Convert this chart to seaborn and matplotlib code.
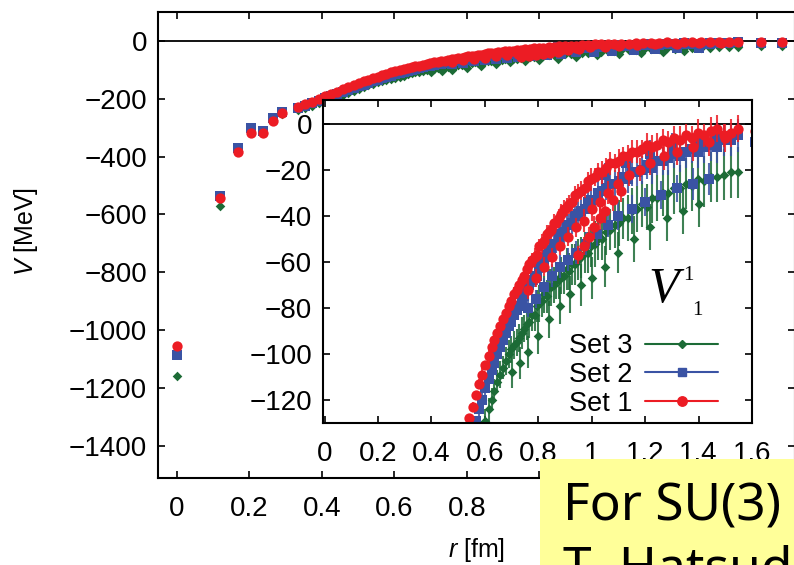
import matplotlib
matplotlib.use("Agg")
import matplotlib.pyplot as plt
from matplotlib.lines import Line2D
from matplotlib.patches import Rectangle
import pandas as pd
import seaborn as sns

# ---------------- data ----------------
r_core = [0.000, 0.118, 0.167, 0.204, 0.236, 0.264, 0.289,
          0.334, 0.354, 0.373, 0.391, 0.409, 0.425, 0.441, 0.457, 0.472, 0.487, 0.501, 0.515, 0.528, 0.541,
          0.554, 0.566, 0.578, 0.590, 0.602, 0.614, 0.625, 0.636, 0.647, 0.658, 0.668, 0.679, 0.689, 0.699,
          0.709, 0.719, 0.729, 0.739, 0.748, 0.758,
          0.767, 0.776, 0.786, 0.795, 0.804, 0.813, 0.822, 0.831, 0.840, 0.849, 0.858, 0.867, 0.876, 0.886,
          0.896, 0.906, 0.916, 0.927, 0.938, 0.949,
          0.961, 0.973, 0.985, 0.998, 1.011, 1.025, 1.040, 1.055, 1.070, 1.086,
          1.102, 1.118, 1.135, 1.152, 1.170, 1.188, 1.207, 1.226, 1.246, 1.266,
          1.287, 1.308, 1.330, 1.352, 1.375, 1.398, 1.422, 1.446, 1.470, 1.496,
          1.522, 1.548, 1.610, 1.670]

# Set 1 (red)
v1_core = [-1055, -544, -385, -318, -320, -276, -250,
           -228, -218, -210, -200, -191, -183, -175, -167, -160, -153, -146, -140, -134, -128,
           -123, -118, -113, -109, -105, -101, -97, -94, -91, -88, -85, -82, -79, -77,
           -74, -72, -70, -68, -66, -63,
           -61, -59, -58, -57, -53, -52, -51, -48, -47, -46, -43, -43, -41, -39,
           -37, -36, -35, -34, -31, -30,
           -29, -28, -25, -24, -23, -21, -21, -19, -17, -17,
           -16, -14, -14, -12, -12, -11, -9, -10, -9, -7,
           -8, -6, -7, -5, -6, -4, -5, -3, -2, -5,
           -4, -2, -3, -2]
e1_core = [4, 3, 3, 2, 2, 2, 2,
           2, 2, 2, 2, 2, 2, 2, 2, 2, 2, 2, 2, 2, 2,
           2, 2, 2, 3, 2, 3, 2, 3, 3, 2, 3, 3, 3, 3,
           3, 3, 3, 3, 3, 3,
           3, 3, 4, 3, 3, 4, 3, 4, 3, 4, 4, 3, 4, 4,
           4, 4, 4, 4, 4, 4,
           4, 4, 4, 5, 4, 4, 5, 4, 5, 4,
           5, 4, 5, 5, 5, 4, 5, 5, 5, 5,
           5, 5, 6, 5, 5, 6, 5, 6, 6, 5,
           6, 6, 6, 6]
r1_b = [0.760, 0.790, 0.820, 0.850, 0.880, 0.910, 0.940, 0.970, 1.000, 1.030,
        1.060, 1.100, 1.140, 1.180, 1.220, 1.270, 1.320, 1.380, 1.440, 1.500]
v1_b = [-72, -67, -62, -58, -53, -49, -45, -42, -37, -34,
        -30, -26, -22, -20, -17, -14, -12, -10, -8, -6]
e1_b = [4, 4, 4, 4, 4, 4, 4, 5, 5, 5, 5, 5, 5, 5, 5, 6, 6, 6, 6, 6]
r1_c = [0.950, 0.970, 0.990, 1.010, 1.030, 1.050, 1.080, 1.110]
v1_c = [-57, -53, -49, -45, -41, -38, -33, -29]
e1_c = [4, 4, 4, 5, 5, 5, 5, 5]

# Set 2 (blue)
v2_core = [-1085, -537, -371, -302, -310, -267, -245,
           -232, -224, -216, -208, -199, -192, -185, -178, -171, -164, -157, -151, -145, -140,
           -134, -129, -124, -120, -115, -111, -107, -104, -100, -97, -94, -91, -88, -86,
           -83, -81, -79, -77, -75, -72,
           -70, -68, -67, -66, -62, -61, -60, -57, -56, -55, -52, -52, -49, -48,
           -47, -44, -44, -43, -40, -39,
           -38, -37, -34, -33, -33, -30, -29, -28, -26, -26,
           -25, -23, -24, -21, -21, -20, -18, -19, -16, -16,
           -15, -13, -14, -12, -11, -12, -10, -9, -10, -7,
           -7, -5, -8, -6]
e2_core = [4, 3, 3, 2, 2, 2, 2,
           2, 2, 2, 2, 2, 2, 2, 2, 2, 2, 2, 3, 2, 3,
           3, 2, 3, 3, 3, 3, 3, 3, 3, 3, 3, 3, 4, 3,
           4, 3, 4, 4, 3, 4,
           4, 4, 4, 4, 4, 4, 4, 5, 4, 4, 5, 4, 5, 5,
           5, 5, 5, 5, 5, 5,
           5, 5, 5, 6, 5, 5, 6, 5, 6, 6,
           6, 6, 6, 6, 6, 6, 6, 7, 6, 6,
           7, 6, 7, 7, 6, 7, 7, 7, 7, 7,
           7, 7, 7, 7]
r2_b = [0.760, 0.790, 0.820, 0.850, 0.880, 0.910, 0.940, 0.980, 1.020, 1.060,
        1.100, 1.150, 1.200, 1.260, 1.320, 1.380, 1.440]
v2_b = [-80, -76, -71, -66, -62, -59, -56, -52, -48, -44,
        -40, -37, -34, -31, -28, -26, -24]
e2_b = [4, 4, 4, 5, 5, 5, 5, 5, 5, 5, 6, 6, 6, 6, 6, 7, 7]
r2_c = [1.050, 1.130, 1.220, 1.300, 1.400, 1.470]
v2_c = [-22, -17, -13, -10, -8, -6]
e2_c = [5, 5, 6, 6, 6, 7]

# Set 3 (green)
v3_core = [-1160, -570, -380, -312, -318, -272, -252,
           -240, -232, -224, -216, -208, -201, -194, -187, -180, -173, -166, -160, -154, -148,
           -143, -139, -136, -133, -129, -124, -120, -116, -112, -109, -106, -103, -100, -98,
           -96, -95, -93, -91, -89, -87,
           -86, -83, -83, -79, -78, -77, -74, -75, -71, -71, -70, -68, -68, -66,
           -66, -63, -64, -61, -61, -59,
           -58, -56, -56, -53, -52, -50, -50, -47, -46, -44,
           -43, -41, -41, -38, -37, -35, -36, -32, -32, -30,
           -30, -28, -28, -26, -27, -24, -25, -23, -23, -22,
           -21, -21, -18, -17]
e3_core = [5, 4, 4, 3, 3, 3, 3,
           3, 3, 3, 3, 3, 3, 3, 3, 4, 3, 4, 4, 4, 4,
           4, 4, 5, 4, 5, 5, 5, 5, 5, 6, 5, 6, 6, 6,
           6, 6, 6, 7, 6, 7,
           7, 7, 7, 7, 8, 7, 8, 7, 8, 8, 8, 8, 8, 8,
           8, 9, 8, 9, 9, 9,
           9, 9, 9, 9, 10, 9, 9, 10, 9, 10,
           10, 9, 10, 10, 10, 10, 10, 11, 10, 10,
           10, 11, 10, 11, 11, 10, 11, 11, 11, 11,
           11, 11, 11, 11]
r3_b = [0.700, 0.730, 0.760, 0.800, 0.840, 0.880, 0.920, 0.960, 1.000, 1.050,
        1.100, 1.160, 1.220, 1.280, 1.340, 1.400]
v3_b = [-108, -104, -99, -92, -85, -79, -74, -70, -67, -62,
        -56, -50, -45, -41, -38, -35]
e3_b = [7, 7, 7, 8, 8, 8, 8, 9, 9, 9, 9, 10, 10, 10, 10, 10]

set_names = ["Set 3", "Set 2", "Set 1"]
main_xticks = [0, 0.2, 0.4, 0.6, 0.8, 1.0, 1.2, 1.4, 1.6]
# labels of the main axis beyond 0.8 are hidden under the note box in the reference
main_xlabels = ["0", "0.2", "0.4", "0.6", "0.8", "", "", "", ""]
inset_xlabels = ["0", "0.2", "0.4", "0.6", "0.8", "1", "1.2", "1.4", "1.6"]
main_yticks = [0, -200, -400, -600, -800, -1000, -1200, -1400]
inset_yticks = [0, -20, -40, -60, -80, -100, -120]

RED = "#EC1C24"
BLUE = "#3A53A4"
GREEN = "#1C6B36"


def build(name, parts):
    frames = [pd.DataFrame({"r": r, "V": v, "err": e}) for r, v, e in parts]
    d = pd.concat(frames, ignore_index=True)
    d["set"] = name
    return d


df = pd.concat([
    build("Set 3", [(r_core, v3_core, e3_core), (r3_b, v3_b, e3_b)]),
    build("Set 2", [(r_core, v2_core, e2_core), (r2_b, v2_b, e2_b), (r2_c, v2_c, e2_c)]),
    build("Set 1", [(r_core, v1_core, e1_core), (r1_b, v1_b, e1_b), (r1_c, v1_c, e1_c)]),
], ignore_index=True)

styles = {
    "Set 3": dict(color=GREEN, marker="D", s=24, ms=4.3, z=2.0),
    "Set 2": dict(color=BLUE, marker="s", s=46, ms=6.3, z=2.2),
    "Set 1": dict(color=RED, marker="o", s=55, ms=6.8, z=2.4),
}

# ---------------- styling ----------------
sns.set_theme(style="ticks")
plt.rcParams["font.family"] = ["Liberation Sans", "DejaVu Sans"]
plt.rcParams["mathtext.fontset"] = "custom"
plt.rcParams["mathtext.it"] = "Liberation Sans:italic"
plt.rcParams["mathtext.rm"] = "Liberation Sans"
plt.rcParams["axes.edgecolor"] = "black"
plt.rcParams["xtick.color"] = "black"
plt.rcParams["ytick.color"] = "black"
plt.rcParams["text.color"] = "black"
plt.rcParams["axes.labelcolor"] = "black"

W, H = 794, 565
fig = plt.figure(figsize=(W / 100, H / 100), dpi=100)
ax = fig.add_axes([158 / W, 1 - 478 / H, 637 / W, 466 / H])
ins = fig.add_axes([323 / W, 1 - 423 / H, 429 / W, 323 / H], zorder=2)
ins.set_facecolor("white")


def draw(a):
    a.axhline(0, color="black", lw=1.3, zorder=1)
    for name in set_names:
        sub = df[df["set"] == name]
        st = styles[name]
        a.errorbar(sub["r"], sub["V"], yerr=sub["err"], fmt="none",
                   ecolor=st["color"], elinewidth=1.5, capsize=0, alpha=0.85, zorder=st["z"])
        sns.scatterplot(data=sub, x="r", y="V", marker=st["marker"], color=st["color"],
                        s=st["s"], linewidth=0, ax=a, legend=False, zorder=st["z"] + 0.1)
    for sp in a.spines.values():
        sp.set_linewidth(1.5)
        sp.set_visible(True)
    a.set_xlabel("")
    a.set_ylabel("")


draw(ax)
draw(ins)

# main axes
ax.set_xlim(-0.0524, 1.705)
ax.set_ylim(-1511, 100)
ax.set_xticks(main_xticks)
ax.set_xticklabels(main_xlabels)
ax.set_yticks(main_yticks)
ax.tick_params(direction="in", length=5, width=1.2, top=True, right=True, labelsize=20)
ax.tick_params(axis="x", pad=13)
ax.tick_params(axis="y", pad=8)
ax.set_ylabel(r"$V$ [MeV]", fontsize=18)
ax.yaxis.set_label_coords(-0.185, 0.53)
ax.set_xlabel(r"$r$ [fm]", fontsize=18)
ax.xaxis.set_label_coords(0.5, -0.124)

# inset axes
ins.set_xlim(-0.006, 1.6)
ins.set_ylim(-130, 10.4)
ins.set_xticks(main_xticks)
ins.set_xticklabels(inset_xlabels)
ins.set_yticks(inset_yticks)
ins.tick_params(direction="in", length=5, width=1.2, top=True, right=True, labelsize=20)
ins.tick_params(axis="x", pad=13)
ins.tick_params(axis="y", pad=8)

handles = [Line2D([], [], color=styles[n]["color"], marker=styles[n]["marker"],
                  markersize=styles[n]["ms"], lw=1.5) for n in set_names]
ins.legend(handles, set_names, loc="lower right", bbox_to_anchor=(0.921, 0.02),
           frameon=False, markerfirst=False, handlelength=2.7, handletextpad=0.45,
           labelspacing=0.1, fontsize=19.5, borderpad=0, borderaxespad=0)

# V^1_1 annotation
fig.text(648 / W, 1 - 302 / H, "V", family="Liberation Serif", style="italic",
         fontsize=36, va="baseline", ha="left", zorder=6)
fig.text(683 / W, 1 - 280 / H, "1", family="Liberation Serif",
         fontsize=15, va="baseline", ha="left", zorder=6)
fig.text(692 / W, 1 - 315 / H, "1", family="Liberation Serif",
         fontsize=15, va="baseline", ha="left", zorder=6)

# yellow note box (cut off at the figure edge)
fig.add_artist(Rectangle((540 / W, 0), 1 - 540 / W + 0.01, (H - 459) / H,
                         transform=fig.transFigure, facecolor="#FFFF99",
                         edgecolor="none", zorder=10))
fig.text(563 / W, 1 - 520 / H, "For SU(3)", family="Noto Sans", fontsize=37,
         va="baseline", ha="left", zorder=11)
fig.text(563 / W, 1 - 584 / H, "T. Hatsuda", family="Noto Sans", fontsize=37,
         va="baseline", ha="left", zorder=11)

fig.savefig("out.png", dpi=100)
